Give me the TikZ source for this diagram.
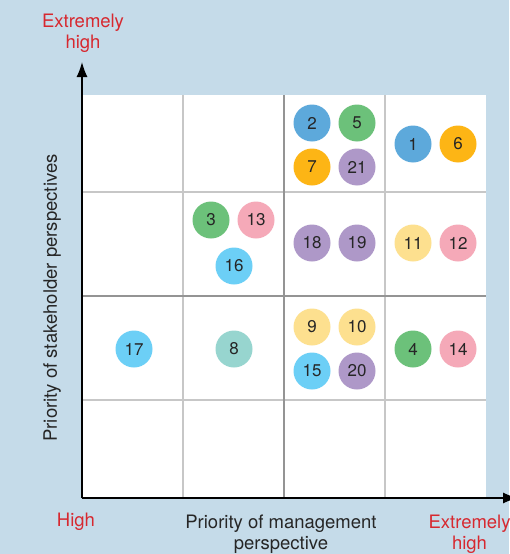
\documentclass[tikz,border=0pt]{standalone}
\usepackage{fontspec}
\setmainfont{TeX Gyre Heros}
\usetikzlibrary{arrows.meta}
\definecolor{backdrop}{HTML}{C5DBE9}
\definecolor{cblue}{HTML}{5DA9DB}
\definecolor{cgreen}{HTML}{6CC17A}
\definecolor{corange}{HTML}{FDB515}
\definecolor{cpurple}{HTML}{AE98C8}
\definecolor{csky}{HTML}{6CCFF6}
\definecolor{cteal}{HTML}{97D5CF}
\definecolor{cyellow}{HTML}{FDE08F}
\definecolor{cpink}{HTML}{F5A9B8}
\definecolor{cred}{HTML}{D7282F}
\begin{document}
\begin{tikzpicture}
    [
        x=1pt, y=-1pt,
        issue/.style={circle, minimum size=37pt, inner sep=0pt, font=\fontsize{17}{18}\selectfont, text=black!85},
        caption/.style={align=center, font=\fontsize{18.5}{21}\selectfont},
        thin grid/.style={draw=black!22, line width=1.3pt},
        thick grid/.style={draw=black!42, line width=1.5pt},
        axis/.style={line width=1.4pt, -{Latex[length=15pt, width=11pt]}},
    ]
    \fill [backdrop] (0,0) rectangle (509,554);
    \useasboundingbox (0,0) rectangle (509,554);
    \fill [white] (83,95) rectangle (486,497);
    % grid
    \draw [thin grid] (183,95) -- (183,497);
    \draw [thin grid] (385,95) -- (385,497);
    \draw [thin grid] (83,192) -- (486,192);
    \draw [thin grid] (83,400) -- (486,400);
    \draw [thick grid] (284,95) -- (284,497);
    \draw [thick grid] (83,296) -- (486,296);
    % axes
    \coordinate (origin) at (82,498);
    \coordinate (ytip) at (82,62);
    \coordinate (xtip) at (518,498);
    \draw [axis] (origin) -- (ytip);
    \draw [axis] (origin) -- (xtip);
    % labels
    \node (ytop) at (83,33) [caption, text=cred] {Extremely\\high};
    \node (xlow) at (76,522) [caption, text=cred] {High};
    \node (xtop) at (469.5,534.5) [caption, text=cred] {Extremely\\high};
    \node (xlabel) at (281,534.5) [caption, text=black!85] {Priority of management\\perspective};
    \node (ylabel) at (52,298) [caption, text=black!85, rotate=90] {Priority of stakeholder perspectives};
    % top row
    \node (n2) at (312,123) [issue, fill=cblue] {2};
    \node (n5) at (357,123) [issue, fill=cgreen] {5};
    \node (n7) at (312,167) [issue, fill=corange] {7};
    \node (n21) at (357,167) [issue, fill=cpurple] {21};
    \node (n1) at (413,144) [issue, fill=cblue] {1};
    \node (n6) at (458,144) [issue, fill=corange] {6};
    % second row
    \node (n3) at (211,220) [issue, fill=cgreen] {3};
    \node (n13) at (256,220) [issue, fill=cpink] {13};
    \node (n16) at (234,266) [issue, fill=csky] {16};
    \node (n18) at (312,243) [issue, fill=cpurple] {18};
    \node (n19) at (357,243) [issue, fill=cpurple] {19};
    \node (n11) at (413,243) [issue, fill=cyellow] {11};
    \node (n12) at (458,243) [issue, fill=cpink] {12};
    % third row
    \node (n17) at (134,349) [issue, fill=csky] {17};
    \node (n8) at (234,349) [issue, fill=cteal] {8};
    \node (n9) at (312,327) [issue, fill=cyellow] {9};
    \node (n10) at (357,327) [issue, fill=cyellow] {10};
    \node (n15) at (312,371) [issue, fill=csky] {15};
    \node (n20) at (357,371) [issue, fill=cpurple] {20};
    \node (n4) at (413,349) [issue, fill=cgreen] {4};
    \node (n14) at (458,349) [issue, fill=cpink] {14};
\end{tikzpicture}
\end{document}
